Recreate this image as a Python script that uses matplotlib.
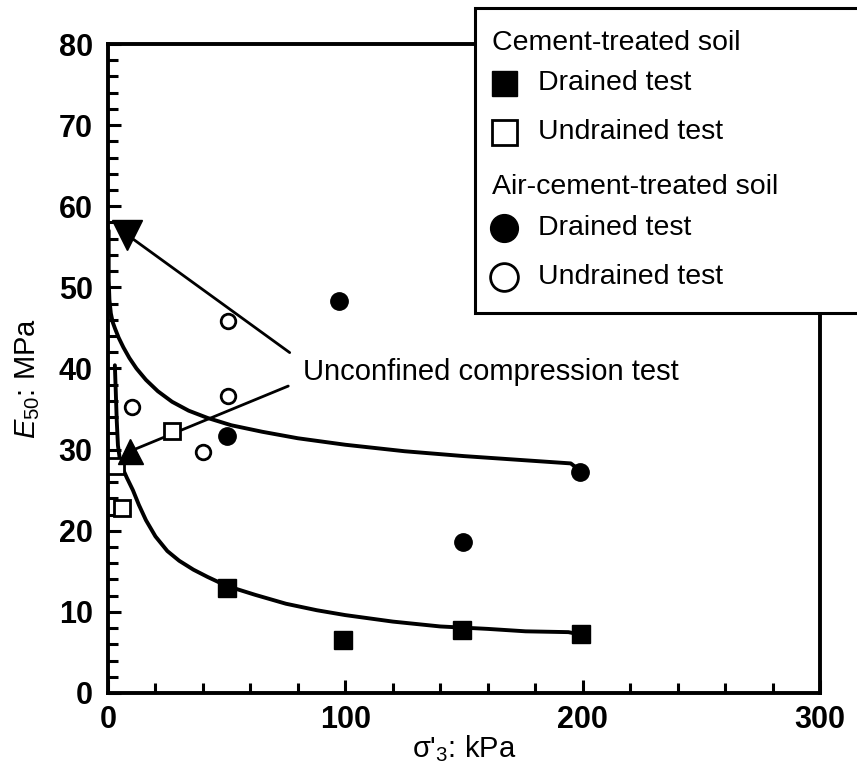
import matplotlib
matplotlib.use("Agg")
import matplotlib.pyplot as plt
from matplotlib.patches import Rectangle
from matplotlib.ticker import MultipleLocator

plt.rcParams['font.family'] = ['Liberation Sans', 'DejaVu Sans']
plt.rcParams['mathtext.fontset'] = 'custom'
plt.rcParams['mathtext.rm'] = 'Liberation Sans'
plt.rcParams['mathtext.it'] = 'Liberation Sans:italic'

# Cement-treated soil
cem_drained_x = [50, 99, 149, 199.5]
cem_drained_y = [13.0, 6.5, 7.8, 7.3]
cem_undrained_x = [3.5, 5.9, 27]
cem_undrained_y = [28.0, 22.8, 32.3]

# Air-cement-treated soil
air_drained_x = [50, 97.5, 149.5, 199]
air_drained_y = [31.7, 48.3, 18.6, 27.2]
air_undrained_x = [50.5, 50.5, 40, 10]
air_undrained_y = [45.8, 36.6, 29.7, 35.2]

# Unconfined compression test (sigma3 = 0 plotted just off the axis)
ucs_air = (8, 56.5)
ucs_cem = (9.3, 29.8)

# Trend curves
upper_x = [0.3, 0.3, 0.6, 1.2, 2.0, 3.0, 4.5, 6.5, 9, 12, 16, 21, 27, 34, 42,
           52, 65, 80, 100, 125, 150, 175, 195, 199]
upper_y = [57.0, 51.0, 48.5, 46.8, 45.7, 44.9, 43.8, 42.6, 41.3, 40.0, 38.6, 37.2,
           35.9, 34.8, 33.9, 33.0, 32.2, 31.4, 30.6, 29.8, 29.2, 28.7, 28.3, 27.4]
lower_x = [2.9, 3.3, 3.7, 4.2, 5.0, 6.3, 8.0, 10.5, 13, 16, 20, 25, 30, 36, 42,
           50, 62, 75, 88, 100, 120, 140, 160, 176, 194, 199]
lower_y = [40.4, 37.0, 33.5, 30.5, 28.8, 27.6, 26.5, 25.0, 23.2, 21.3, 19.3, 17.5,
           16.3, 15.2, 14.3, 13.2, 12.1, 11.0, 10.2, 9.6, 8.8, 8.2, 7.9, 7.6, 7.5, 7.2]

fig = plt.figure(figsize=(8.57, 7.71), dpi=100)
ax = fig.add_axes([0.126, 0.1012, 0.8308, 0.8417])

ax.plot(upper_x, upper_y, color='black', lw=2.8, solid_capstyle='round',
        solid_joinstyle='round', zorder=3)
ax.plot(lower_x, lower_y, color='black', lw=2.8, solid_capstyle='round',
        solid_joinstyle='round', zorder=3)

ax.plot(cem_drained_x, cem_drained_y, 's', ms=12.5, mfc='black', mec='black', zorder=5)
ax.plot(cem_undrained_x, cem_undrained_y, 's', ms=11, mfc='white', mec='black', mew=2, zorder=5)
ax.plot(air_drained_x, air_drained_y, 'o', ms=12.5, mfc='black', mec='black', zorder=5)
ax.plot(air_undrained_x, air_undrained_y, 'o', ms=10.5, mfc='white', mec='black', mew=2, zorder=5)
ax.plot(*ucs_air, 'v', ms=22, color='black', zorder=6)
ax.plot(*ucs_cem, '^', ms=18, color='black', zorder=6)

# leader lines from the label to both triangles
label = "Unconfined compression test"
ax.annotate(label, xy=ucs_air, xytext=(82, 39.6), fontsize=21, va='center',
            arrowprops=dict(arrowstyle='-', lw=2, color='black', relpos=(0, 0.85),
                            shrinkA=9, shrinkB=0), zorder=4)
ax.annotate(label, xy=ucs_cem, xytext=(82, 39.6), fontsize=21, va='center', color='none',
            arrowprops=dict(arrowstyle='-', lw=2, color='black', relpos=(0, 0.2),
                            shrinkA=9, shrinkB=0), zorder=4)

ax.set_xlim(0, 300)
ax.set_ylim(0, 80)
ax.xaxis.set_major_locator(MultipleLocator(100))
ax.xaxis.set_minor_locator(MultipleLocator(20))
ax.yaxis.set_major_locator(MultipleLocator(10))
ax.yaxis.set_minor_locator(MultipleLocator(2))
ax.tick_params(which='both', direction='in', top=False, right=False, width=2.2)
ax.tick_params(which='major', length=9.5, pad=9, labelsize=22)
ax.tick_params(axis='y', which='major', pad=11)
ax.tick_params(which='minor', length=7)
for lab in ax.get_xticklabels() + ax.get_yticklabels():
    lab.set_fontweight('bold')
for sp in ax.spines.values():
    sp.set_linewidth(2.8)

ax.set_xlabel(r"σ'$_3$: kPa", fontsize=21)
ax.set_ylabel(r"$E_{50}$: MPa", fontsize=21)
ax.yaxis.set_label_coords(-0.092, 0.485)
ax.xaxis.set_label_coords(0.50, -0.062)

# legend box sits over the top-right corner of the frame
box = Rectangle((0.5154, 0.5855), 0.56, 0.47, transform=ax.transAxes, facecolor='white',
                edgecolor='black', lw=2.2, clip_on=False, zorder=10)
ax.add_patch(box)

mk_x, txt_x, head_x = 0.556, 0.604, 0.539
headers = [("Cement-treated soil", 1.001), ("Air-cement-treated soil", 0.7797)]
entries = [
    ("Drained test", 0.940, dict(marker='s', ms=18, mfc='black', mec='black')),
    ("Undrained test", 0.8644, dict(marker='s', ms=18, mfc='white', mec='black', mew=2)),
    ("Drained test", 0.7165, dict(marker='o', ms=20, mfc='black', mec='black')),
    ("Undrained test", 0.641, dict(marker='o', ms=20, mfc='white', mec='black', mew=2)),
]
for text, y in headers:
    ax.text(head_x, y, text, transform=ax.transAxes, fontsize=20.5, va='center',
            ha='left', zorder=11, clip_on=False)
for text, y, style in entries:
    ax.plot([mk_x], [y], transform=ax.transAxes, clip_on=False, zorder=11, ls='none', **style)
    ax.text(txt_x, y, text, transform=ax.transAxes, fontsize=20.5, va='center',
            ha='left', zorder=11, clip_on=False)

fig.savefig("out.png", dpi=100)
